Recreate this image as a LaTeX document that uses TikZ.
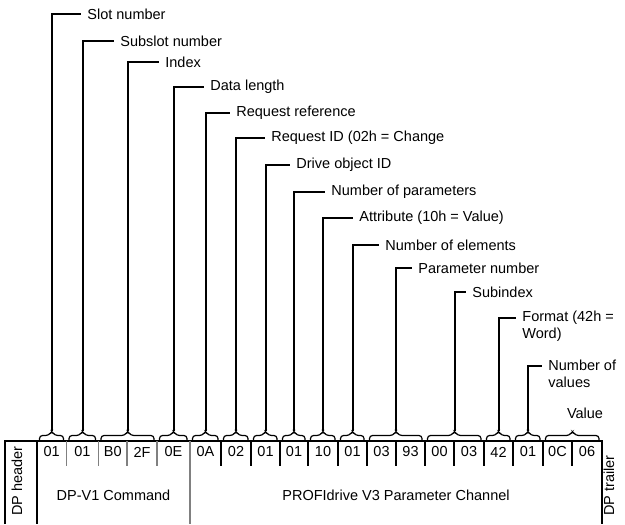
\documentclass[tikz,border=0pt]{standalone}
\usepackage{fontspec}
\setmainfont{Liberation Sans}
\usetikzlibrary{calc, positioning}

\tikzset{
  txt/.style={font=\fontsize{7.25}{8.5}\selectfont, inner sep=0pt},
  lbl/.style={txt, anchor=west, inner sep=3pt, align=left},
  leader/.style={line width=1pt},
  brace/.style={line width=0.6pt, rounded corners=1.5pt},
  frame/.style={line width=1pt},
  graydiv/.style={line width=0.7pt, gray},
}

\begin{document}
\begin{tikzpicture}[x=0.5pt, y=-0.5pt]
\useasboundingbox (0,0) rectangle (625,524);

% byte boundaries
\foreach \x [count=\i from 0] in {37,66.5,98.5,127,157,190,221,251,280,308,338,367,396,425,454,484,513,543,572,602}
  \coordinate (b\i) at (\x,441);

% frame
\draw[frame] (5,524) -- (5,441) -- (b19) -- ++(0,83);
\draw[frame] (b0) -- ++(0,83);
\draw[graydiv] (b5) -- ++(0,83);
\foreach \i in {1,...,4}
  \draw[graydiv] (b\i) -- ++(0,25);
\foreach \i in {6,...,18}
  \draw[frame] (b\i) -- ++(0,25);

% bytes
\foreach \v [count=\i from 0] in {01,01,B0,2F,0E,0A,02,01,01,10,01,03,93,00,03,42,01,0C,06} {
  \pgfmathtruncatemacro\j{\i+1}
  \node[txt] (c\i) at ($(b\i)!0.5!(b\j)+(0,11)$) {\v};
}

% braces
\foreach \s/\e/\t in {0/0/t1,1/1/t2,2/3/t3,4/4/t4,5/5/t5,6/6/t6,7/7/t7,8/8/t8,
    9/9/t9,10/10/t10,11/12/t11,13/14/t12,15/15/t13,16/16/t14,17/18/t15} {
  \pgfmathtruncatemacro\ee{\e+1}
  \coordinate (\t) at ($(b\s)!0.5!(b\ee)+(0,-10)$);
  \draw[brace] ($(b\s)+(2.5,0)$) |- ($(\t)+(-3,4.5)$) -- (\t)
    -- ($(\t)+(3,4.5)$) -| ($(b\ee)+(-3,0)$);
}

% labels
\node[lbl] (slot) at (81,14) {Slot number};
\node[lbl] (subslot) at (114,41) {Subslot number};
\node[lbl] (index) at (159,62) {Index};
\node[lbl] (datalen) at (204,87) {Data length};
\node[lbl] (reqref) at (230,113) {Request reference};
\node[lbl] (reqid) at (265,138) {Request ID (02h = Change};
\node[lbl] (driveid) at (290,165) {Drive object ID};
\node[lbl] (nparams) at (325,192) {Number of parameters};
\node[lbl] (attrib) at (353,218) {Attribute (10h = Value)};
\node[lbl] (nelems) at (379,245) {Number of elements};
\node[lbl] (parnum) at (412,268) {Parameter number};
\node[lbl] (subidx) at (466,292) {Subindex};
\node[lbl] (format) at (516,326.5) {Format (42h =\\Word)};
\node[lbl] (nvalues) at (542,374) {Number of\\values};
\node[txt] (value) at (585,413) {Value};

% leaders
\foreach \t/\n in {t1/slot,t2/subslot,t3/index,t4/datalen,t5/reqref,t6/reqid,
    t7/driveid,t8/nparams,t9/attrib,t10/nelems,t11/parnum,t12/subidx}
  \draw[leader] (\t) |- (\n.west);
\draw[leader] (t13) |- ([yshift=4.25pt]format.west);
\draw[leader] (t14) |- ([yshift=4.25pt]nvalues.west);

% blocks
\node[txt] (dpv1) at (113.5,495) {DP-V1 Command};
\node[txt] (channel) at (396,495) {PROFIdrive V3 Parameter Channel};
\node[txt, rotate=90, anchor=west] (header) at (17,516) {DP header};
\node[txt, rotate=90, anchor=west] (trailer) at (609,516) {DP trailer};
\end{tikzpicture}
\end{document}
